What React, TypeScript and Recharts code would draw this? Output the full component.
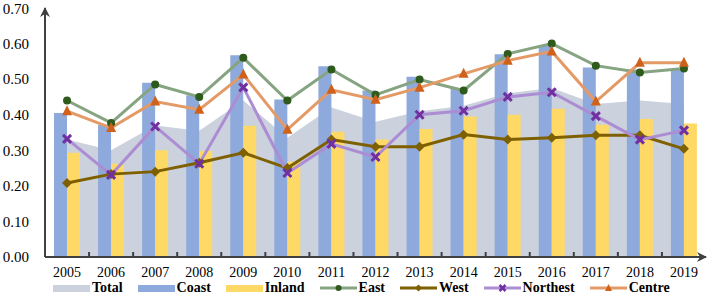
import React from 'react';
import { ComposedChart, Area, Bar, Line, XAxis, YAxis, Legend } from 'recharts';

const years = ['2005', '2006', '2007', '2008', '2009', '2010', '2011', '2012', '2013', '2014', '2015', '2016', '2017', '2018', '2019'];
const total = [0.33, 0.30, 0.37, 0.355, 0.44, 0.335, 0.42, 0.38, 0.41, 0.425, 0.46, 0.475, 0.43, 0.44, 0.43];
const coast = [0.405, 0.372, 0.49, 0.455, 0.567, 0.443, 0.536, 0.468, 0.507, 0.475, 0.57, 0.595, 0.533, 0.527, 0.527];
const inland = [0.293, 0.262, 0.30, 0.298, 0.369, 0.268, 0.352, 0.33, 0.36, 0.395, 0.40, 0.417, 0.372, 0.388, 0.375];
const east = [0.44, 0.377, 0.485, 0.45, 0.56, 0.44, 0.527, 0.456, 0.499, 0.468, 0.571, 0.60, 0.538, 0.519, 0.53];
const west = [0.208, 0.233, 0.24, 0.265, 0.293, 0.25, 0.33, 0.31, 0.31, 0.344, 0.33, 0.335, 0.342, 0.342, 0.304];
const northest = [0.332, 0.231, 0.367, 0.262, 0.477, 0.236, 0.318, 0.281, 0.40, 0.411, 0.45, 0.463, 0.396, 0.33, 0.356];
const centre = [0.41, 0.363, 0.437, 0.414, 0.513, 0.358, 0.47, 0.442, 0.476, 0.515, 0.552, 0.578, 0.437, 0.546, 0.546];
const yTicks = [0, 0.1, 0.2, 0.3, 0.4, 0.5, 0.6, 0.7];

const data = years.map((year, i) => ({
  year,
  total: total[i],
  coast: coast[i],
  inland: inland[i],
  east: east[i],
  west: west[i],
  northest: northest[i],
  centre: centre[i],
}));

const FONT = 'Liberation Serif';
const C = {
  total: '#CBD1DD',
  coast: '#8EA9DB',
  inland: '#FFD966',
  eastLine: '#86A481',
  eastDot: '#2E5A1C',
  westLine: '#7F6000',
  westDot: '#7F6000',
  nLine: '#AC8DD4',
  nDot: '#7030A0',
  cLine: '#E49A66',
  cDot: '#D0611A',
  axis: '#404040',
};

const Circle = (color: string, r = 4) => (p: any) =>
  p.cx == null ? <g key={p.key} /> : <circle key={p.key} cx={p.cx} cy={p.cy} r={r} fill={color} />;
const Diamond = (color: string, s = 5) => (p: any) =>
  p.cx == null ? <g key={p.key} /> : (
    <path key={p.key} d={`M${p.cx},${p.cy - s} L${p.cx + s},${p.cy} L${p.cx},${p.cy + s} L${p.cx - s},${p.cy} Z`} fill={color} />
  );
const Cross = (color: string, s = 4) => (p: any) =>
  p.cx == null ? <g key={p.key} /> : (
    <path key={p.key} d={`M${p.cx - s},${p.cy - s} L${p.cx + s},${p.cy + s} M${p.cx + s},${p.cy - s} L${p.cx - s},${p.cy + s}`} stroke={color} strokeWidth={3} />
  );
const Triangle = (color: string, s = 5) => (p: any) =>
  p.cx == null ? <g key={p.key} /> : (
    <path key={p.key} d={`M${p.cx},${p.cy - s - 1} L${p.cx + s},${p.cy + s - 1} L${p.cx - s},${p.cy + s - 1} Z`} fill={color} />
  );

const XTick = (p: any) => {
  const half = p.payload && p.payload.offset ? p.payload.offset : 0;
  const isLast = p.index === years.length - 1;
  return (
    <g>
      {!isLast && half > 0 && (
        <line x1={p.x + half} x2={p.x + half} y1={p.y - 10} y2={p.y - 15} stroke={C.axis} strokeWidth={2} />
      )}
      <text x={p.x} y={p.y} dy="0.71em" textAnchor="middle" fontFamily={FONT} fontSize={14} fill="#000">
        {p.payload.value}
      </text>
    </g>
  );
};

const XArrow = (p: any) => {
  const vb = p.viewBox || {};
  const x = vb.x + vb.width;
  const y = vb.y;
  return <path d={`M${x + 1},${y} L${x - 9},${y - 5} L${x - 6},${y} L${x - 9},${y + 5} Z`} fill={C.axis} />;
};
const YArrow = (p: any) => {
  const vb = p.viewBox || {};
  const x = vb.x + vb.width;
  const y = vb.y;
  return <path d={`M${x},${y - 1} L${x - 5},${y + 9} L${x},${y + 6} L${x + 5},${y + 9} Z`} fill={C.axis} />;
};

const legendItems = [
  { name: 'Total', type: 'rect', color: C.total },
  { name: 'Coast', type: 'rect', color: C.coast },
  { name: 'Inland', type: 'rect', color: C.inland },
  { name: 'East', type: 'line', color: C.eastLine, dot: C.eastDot, shape: 'circle' },
  { name: 'West', type: 'line', color: C.westLine, dot: C.westDot, shape: 'diamond' },
  { name: 'Northest', type: 'line', color: C.nLine, dot: C.nDot, shape: 'cross' },
  { name: 'Centre', type: 'line', color: C.cLine, dot: C.cDot, shape: 'triangle' },
];

const swatch = (it: any) => {
  if (it.type === 'rect') {
    return (
      <svg width={37} height={12}>
        <rect x={0} y={3} width={37} height={7} fill={it.color} />
      </svg>
    );
  }
  const cx = 18.5;
  const cy = 6;
  let m: any = null;
  if (it.shape === 'circle') m = <circle cx={cx} cy={cy} r={3} fill={it.dot} />;
  if (it.shape === 'diamond') m = <path d={`M${cx},${cy - 3.5} L${cx + 3.5},${cy} L${cx},${cy + 3.5} L${cx - 3.5},${cy} Z`} fill={it.dot} />;
  if (it.shape === 'cross') m = <path d={`M${cx - 3},${cy - 3} L${cx + 3},${cy + 3} M${cx + 3},${cy - 3} L${cx - 3},${cy + 3}`} stroke={it.dot} strokeWidth={2.5} />;
  if (it.shape === 'triangle') m = <path d={`M${cx},${cy - 4} L${cx + 3.5},${cy + 3} L${cx - 3.5},${cy + 3} Z`} fill={it.dot} />;
  return (
    <svg width={37} height={12}>
      <line x1={0} y1={cy} x2={37} y2={cy} stroke={it.color} strokeWidth={3} />
      {m}
    </svg>
  );
};

const renderLegend = () => (
  <div
    style={{
      display: 'flex',
      alignItems: 'center',
      paddingLeft: 53,
      height: 18,
      fontFamily: FONT,
      fontWeight: 'bold',
      fontSize: 14,
      color: '#000',
      whiteSpace: 'nowrap',
    }}
  >
    {legendItems.map((it) => (
      <div key={it.name} style={{ display: 'flex', alignItems: 'center', marginRight: 15 }}>
        {swatch(it)}
        <span style={{ marginLeft: 2 }}>{it.name}</span>
      </div>
    ))}
  </div>
);

export default function App() {
  return (
    <div style={{ position: 'absolute', left: 0, top: 0, background: '#fff', fontFamily: FONT }}>
      <ComposedChart
        width={709}
        height={297}
        data={data}
        margin={{ top: 8, right: 3, bottom: 0, left: 0 }}
        barGap={0}
      >
        <XAxis
          xAxisId="cat"
          dataKey="year"
          height={22}
          tick={<XTick />}
          tickLine={false}
          tickSize={8}
          axisLine={{ stroke: C.axis, strokeWidth: 2 }}
          interval={0}
          label={{ content: <XArrow /> }}
        />
        <YAxis
          width={45}
          type="number"
          domain={[0, 0.7]}
          ticks={yTicks}
          tickFormatter={(v: number) => v.toFixed(2)}
          tick={{ fontFamily: FONT, fontSize: 15, fill: '#000' }}
          tickLine={false}
          tickSize={8}
          tickMargin={8}
          axisLine={{ stroke: C.axis, strokeWidth: 2 }}
          label={{ content: <YArrow /> }}
        />
        <Legend verticalAlign="bottom" height={18} content={renderLegend} wrapperStyle={{ left: 0, width: 709, bottom: 0 }} />
        <Area xAxisId="cat" type="linear" dataKey="total" fill={C.total} fillOpacity={1} stroke="none" isAnimationActive={false} dot={false} activeDot={false} />
        <Bar xAxisId="cat" dataKey="coast" fill={C.coast} barSize={13} isAnimationActive={false} />
        <Bar xAxisId="cat" dataKey="inland" fill={C.inland} barSize={13} isAnimationActive={false} />
        <Line xAxisId="cat" type="linear" dataKey="east" stroke={C.eastLine} strokeWidth={3} dot={Circle(C.eastDot)} activeDot={false} isAnimationActive={false} />
        <Line xAxisId="cat" type="linear" dataKey="west" stroke={C.westLine} strokeWidth={3} dot={Diamond(C.westDot)} activeDot={false} isAnimationActive={false} />
        <Line xAxisId="cat" type="linear" dataKey="northest" stroke={C.nLine} strokeWidth={3} dot={Cross(C.nDot)} activeDot={false} isAnimationActive={false} />
        <Line xAxisId="cat" type="linear" dataKey="centre" stroke={C.cLine} strokeWidth={3} dot={Triangle(C.cDot)} activeDot={false} isAnimationActive={false} />
      </ComposedChart>
    </div>
  );
}
